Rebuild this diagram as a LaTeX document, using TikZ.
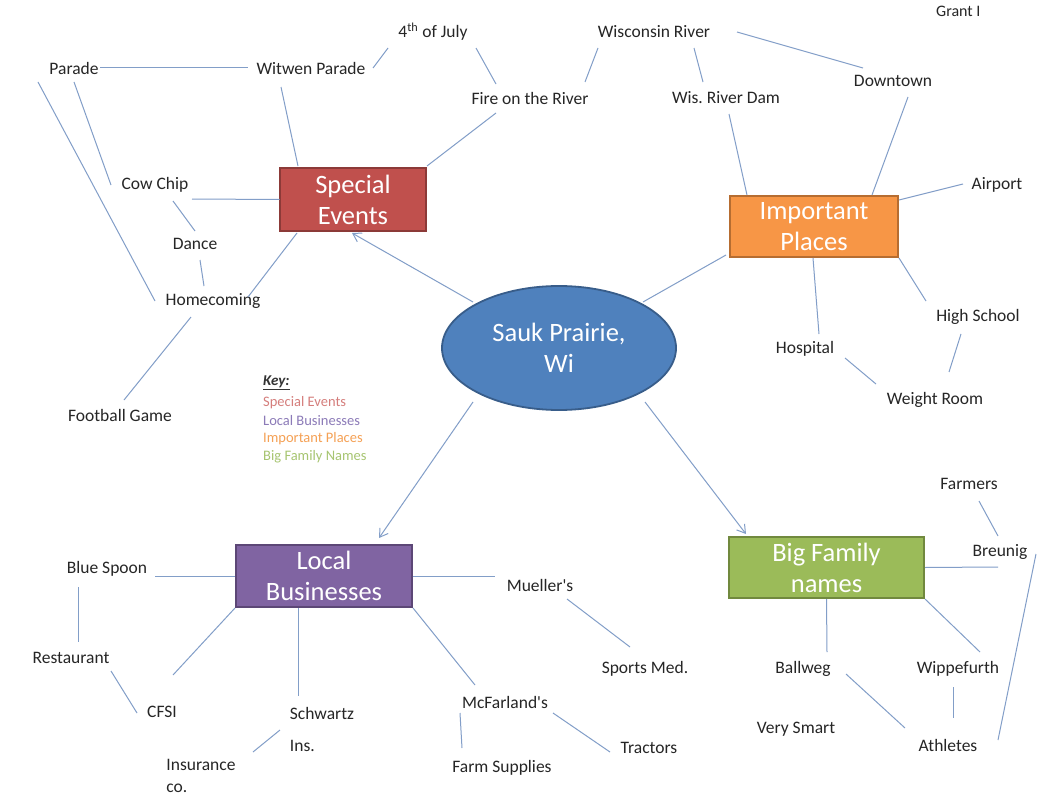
\documentclass[tikz,border=0pt]{standalone}
\usepackage{fontspec}
\setmainfont{Carlito}
\usetikzlibrary{arrows.meta,shapes.geometric}
\definecolor{conncol}{RGB}{130,158,200}
\definecolor{seF}{HTML}{C0504D}\definecolor{seD}{HTML}{8C3A38}
\definecolor{ipF}{HTML}{F79646}\definecolor{ipD}{HTML}{B66D31}
\definecolor{lbF}{HTML}{8064A2}\definecolor{lbD}{HTML}{5C4776}
\definecolor{bfF}{HTML}{9BBB59}\definecolor{bfD}{HTML}{71893E}
\definecolor{elF}{HTML}{4F81BD}\definecolor{elD}{HTML}{385D8A}
\definecolor{keySE}{HTML}{D57E7C}
\definecolor{keyLB}{HTML}{8C7BB8}
\definecolor{keyIP}{HTML}{F5A155}
\definecolor{keyBF}{HTML}{A7C571}
\newcommand\linkit[4]{\draw[conn] ([shift={(#2)}]#1.center) -- ([shift={(#4)}]#3.center);}
\newcommand\arrowit[4]{\draw[conn,arr] ([shift={(#2)}]#1.center) -- ([shift={(#4)}]#3.center);}
\frenchspacing
\begin{document}
\begin{tikzpicture}[x=1pt,y=-1pt,
  conn/.style={draw=conncol, line width=1pt},
  arr/.style={-{Straight Barb[length=8pt,width=10pt,line width=1pt]}},
  lbl/.style={font=\fontsize{17.5}{20}\selectfont, text=black!85, inner sep=0pt},
  keytxt/.style={font=\fontsize{14.5}{16}\selectfont, inner sep=0pt, anchor=west},
  catbox/.style n args={4}{draw=#2, fill=#1, line width=1.8pt, text=white,
     font=\fontsize{26.5}{31}\selectfont, align=center, inner sep=0pt,
     minimum width=#3, minimum height=#4}]
\useasboundingbox[fill=white] (0,0) rectangle (1053,800);

% category boxes
\node[catbox={seF}{seD}{146pt}{63pt}] (se) at (353,199.5) {Special\\Events};
\node[catbox={ipF}{ipD}{168pt}{61pt}] (ip) at (814,226.5) {Important\\Places};
\node[catbox={lbF}{lbD}{176pt}{62pt}] (lb) at (324,576) {Local\\Businesses};
\node[catbox={bfF}{bfD}{195pt}{61pt}] (bf) at (826.5,567.5) {Big Family\\names};
\node[ellipse, draw=elD, fill=elF, line width=1.8pt, text=white,
      font=\fontsize{26.5}{31}\selectfont, align=center, inner sep=0pt,
      minimum width=234pt, minimum height=124pt] (el) at (559,348) {Sauk Prairie,\\Wi};

% labels
\node[lbl] (parade) at (74,68) {Parade};
\node[lbl] (witwen) at (311,68) {Witwen Parade};
\node[lbl] (july) at (433,32) {4\textsuperscript{th} of July};
\node[lbl] (fire) at (530,98) {Fire on the River};
\node[lbl] (wisriver) at (654,32) {Wisconsin River};
\node[lbl] (dam) at (726,98) {Wis. River Dam};
\node[lbl] (downtown) at (893,81) {Downtown};
\node[lbl] (airport) at (997,185) {Airport};
\node[lbl, anchor=west, font=\fontsize{16}{18}\selectfont] (grant) at (936,11) {Grant I};
\node[lbl] (cowchip) at (155,185) {Cow Chip};
\node[lbl] (dance) at (195,244) {Dance};
\node[lbl] (homecoming) at (213,301) {Homecoming};
\node[lbl] (football) at (120,415) {Football Game};
\node[lbl] (hospital) at (805,349) {Hospital};
\node[lbl] (highschool) at (978,317) {High School};
\node[lbl] (weight) at (935,400) {Weight Room};
\node[lbl] (bluespoon) at (107,569) {Blue Spoon};
\node[lbl] (restaurant) at (71,658) {Restaurant};
\node[lbl] (cfsi) at (162,712) {CFSI};
\node[lbl, align=left, font=\fontsize{17.5}{32}\selectfont] (schwartz) at (322,729) {Schwartz\\Ins.};
\node[lbl, align=left, font=\fontsize{17.5}{22}\selectfont] (insur) at (201,776) {Insurance\\co.};
\node[lbl] (mueller) at (540,585) {Mueller\textquotesingle s};
\node[lbl] (sports) at (645,669) {Sports Med.};
\node[lbl] (mcfarland) at (505,702) {McFarland\textquotesingle s};
\node[lbl] (farm) at (502,768) {Farm Supplies};
\node[lbl] (tractors) at (649,748) {Tractors};
\node[lbl] (ballweg) at (803,669) {Ballweg};
\node[lbl] (smart) at (796,729) {Very Smart};
\node[lbl] (wipp) at (958,669) {Wippefurth};
\node[lbl] (athletes) at (948,745) {Athletes};
\node[lbl] (farmers) at (969,484) {Farmers};
\node[lbl] (breunig) at (1000,552) {Breunig};

% key
\node[keytxt, font=\fontsize{15}{17}\selectfont\bfseries\itshape, text=black!80] (key) at (263,383) {\underline{Key:}};
\node[keytxt, text=keySE] (k1) at (263,403) {Special Events};
\node[keytxt, text=keyLB] (k2) at (263,421) {Local Businesses};
\node[keytxt, text=keyIP] (k3) at (263,439) {Important Places};
\node[keytxt, text=keyBF] (k4) at (263,457) {Big Family Names};

% arrows from the centre
\arrowit{el}{-86,-46}{se}{-1,33.5}
\arrowit{el}{-86,54}{lb}{55,-38}
\arrowit{el}{86,54}{bf}{-80.5,-33.5}
\linkit{el}{84,-46}{ip}{-88,28.5}

% special events branch
\linkit{parade}{26,0}{witwen}{-63,0}
\linkit{parade}{0,14}{cowchip}{-44,0}
\linkit{parade}{-36,14}{homecoming}{-58,0}
\linkit{witwen}{-30,19}{se}{-55,-33.5}
\linkit{witwen}{62,0}{july}{-45,16}
\linkit{july}{43,16}{fire}{-34,-14}
\linkit{fire}{-34,15}{se}{74,-33.5}
\linkit{cowchip}{37,14}{se}{-73.5,0}
\linkit{cowchip}{18,16}{dance}{0,-13}
\linkit{dance}{5,16}{homecoming}{-9,-15}
\linkit{homecoming}{35,-4}{se}{-56,33.5}
\linkit{homecoming}{-22,16}{football}{4,-15}

% important places branch
\linkit{fire}{55,-16}{wisriver}{-56,16}
\linkit{wisriver}{40,16}{dam}{-23,-16}
\linkit{wisriver}{83,0}{downtown}{-30,-13}
\linkit{downtown}{15,16}{ip}{58,-31.5}
\linkit{dam}{3,16}{ip}{-67,-31.5}
\linkit{airport}{-34,-1}{ip}{85,-26.5}
\linkit{ip}{-1,31.5}{hospital}{14,-15}
\linkit{ip}{85,31.5}{highschool}{-52,-16}
\linkit{highschool}{-17,17}{weight}{14,-28}
\linkit{hospital}{40,9}{weight}{-59,-16}

% local businesses branch
\linkit{bluespoon}{48,7}{lb}{-89,0}
\linkit{bluespoon}{-29,18}{restaurant}{7,-16}
\linkit{restaurant}{40,13}{cfsi}{-25,1}
\linkit{cfsi}{11,-37}{lb}{-89,32}
\linkit{lb}{-26,32}{schwartz}{-24,-33}
\linkit{schwartz}{-42,1}{insur}{52,-24}
\linkit{lb}{89,0}{mueller}{-45,-9}
\linkit{mueller}{27,14}{sports}{-15,-22}
\linkit{lb}{89,32}{mcfarland}{-30,-17}
\linkit{mcfarland}{-45,11}{farm}{-40,-20}
\linkit{mcfarland}{48,11}{tractors}{-39,4}

% big family names branch
\linkit{bf}{0,31.5}{ballweg}{24,-17}
\linkit{ballweg}{43,5}{athletes}{-43,-17}
\linkit{farmers}{10,17}{breunig}{-2,-16}
\linkit{bf}{98.5,0}{breunig}{-2,15}
\linkit{bf}{98.5,31.5}{wipp}{22,-17}
\linkit{wipp}{-5,18}{athletes}{5,-27}
\linkit{athletes}{50,-5}{breunig}{36,2}
\end{tikzpicture}
\end{document}
